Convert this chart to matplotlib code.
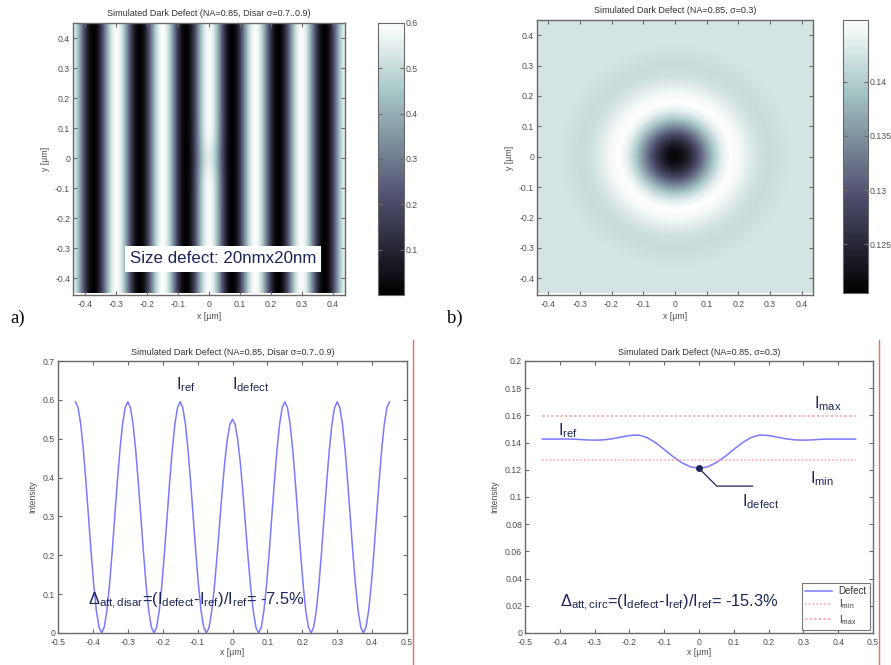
import numpy as np
import matplotlib
matplotlib.use("Agg")
import matplotlib.pyplot as plt
from matplotlib.lines import Line2D

plt.rcParams['font.family'] = ['Liberation Sans', 'DejaVu Sans']
plt.rcParams['mathtext.fontset'] = 'custom'
plt.rcParams['mathtext.rm'] = 'Liberation Sans'
plt.rcParams['mathtext.it'] = 'Liberation Sans'
plt.rcParams['mathtext.default'] = 'regular'

# ---------------- data ----------------
# dipole (Disar) line profile through the defect, x from -0.45 to 0.45 step 0.0075
disar_x = np.linspace(-0.45, 0.45, 121)
disar_defect = [
    0.595, 0.580, 0.538, 0.472, 0.389, 0.298, 0.206, 0.123, 0.057, 0.015,
    0.000, 0.015, 0.057, 0.123, 0.206, 0.298, 0.389, 0.472, 0.538, 0.580,
    0.595, 0.580, 0.538, 0.472, 0.389, 0.298, 0.206, 0.123, 0.057, 0.015,
    0.000, 0.015, 0.057, 0.123, 0.206, 0.298, 0.389, 0.472, 0.538, 0.580,
    0.595, 0.580, 0.538, 0.472, 0.389, 0.298, 0.206, 0.123, 0.057, 0.015,
    0.000, 0.013, 0.053, 0.113, 0.190, 0.275, 0.360, 0.437, 0.497, 0.537,
    0.550, 0.537, 0.497, 0.437, 0.360, 0.275, 0.190, 0.113, 0.053, 0.013,
    0.000, 0.015, 0.057, 0.123, 0.206, 0.298, 0.389, 0.472, 0.538, 0.580,
    0.595, 0.580, 0.538, 0.472, 0.389, 0.298, 0.206, 0.123, 0.057, 0.015,
    0.000, 0.015, 0.057, 0.123, 0.206, 0.298, 0.389, 0.472, 0.538, 0.580,
    0.595, 0.580, 0.538, 0.472, 0.389, 0.298, 0.206, 0.123, 0.057, 0.015,
    0.000, 0.015, 0.057, 0.123, 0.206, 0.298, 0.389, 0.472, 0.538, 0.580,
    0.595]
# reference (no defect) profile: undisturbed centre stripe
disar_ref = [
    0.595, 0.580, 0.538, 0.472, 0.389, 0.298, 0.206, 0.123, 0.057, 0.015,
    0.000, 0.015, 0.057, 0.123, 0.206, 0.298, 0.389, 0.472, 0.538, 0.580,
    0.595, 0.580, 0.538, 0.472, 0.389, 0.298, 0.206, 0.123, 0.057, 0.015,
    0.000, 0.015, 0.057, 0.123, 0.206, 0.298, 0.389, 0.472, 0.538, 0.580,
    0.595, 0.580, 0.538, 0.472, 0.389, 0.298, 0.206, 0.123, 0.057, 0.015,
    0.000, 0.015, 0.057, 0.123, 0.206, 0.298, 0.389, 0.472, 0.538, 0.580,
    0.595, 0.580, 0.538, 0.472, 0.389, 0.298, 0.206, 0.123, 0.057, 0.015,
    0.000, 0.015, 0.057, 0.123, 0.206, 0.298, 0.389, 0.472, 0.538, 0.580,
    0.595, 0.580, 0.538, 0.472, 0.389, 0.298, 0.206, 0.123, 0.057, 0.015,
    0.000, 0.015, 0.057, 0.123, 0.206, 0.298, 0.389, 0.472, 0.538, 0.580,
    0.595, 0.580, 0.538, 0.472, 0.389, 0.298, 0.206, 0.123, 0.057, 0.015,
    0.000, 0.015, 0.057, 0.123, 0.206, 0.298, 0.389, 0.472, 0.538, 0.580,
    0.595]

# circular illumination line profile, x from -0.45 to 0.45 step 0.025
circ_x = np.linspace(-0.45, 0.45, 37)
circ_defect = [
    0.1426, 0.1426, 0.1426, 0.1426, 0.1424, 0.1420, 0.1418, 0.1420, 0.1428,
    0.1440, 0.1452, 0.1456, 0.1438, 0.1400, 0.1350, 0.1298, 0.1253, 0.1222,
    0.1211,
    0.1222, 0.1253, 0.1298, 0.1350, 0.1400, 0.1438, 0.1456, 0.1452, 0.1440,
    0.1428, 0.1420, 0.1418, 0.1420, 0.1424, 0.1426, 0.1426, 0.1426, 0.1426]
circ_Imin = 0.1272
circ_Imax = 0.1595

title_disar = "Simulated Dark Defect (NA=0.85, Disar \u03c3=0.7..0.9)"
title_circ = "Simulated Dark Defect (NA=0.85, \u03c3=0.3)"

# ---------------- figure ----------------
W, H = 891, 665
fig = plt.figure(figsize=(W / 100, H / 100), dpi=100)
fig.patch.set_facecolor('white')


def rect(l, t, r, b):
    return [l / W, 1 - b / H, (r - l) / W, (b - t) / H]


GRAY = '#505050'
NAVY = '#1c2657'
TICK_FS = 6.3


def style(ax):
    for s in ax.spines.values():
        s.set_color('#6a6a6a')
        s.set_linewidth(1.0)
    ax.tick_params(direction='in', length=3, width=0.8, colors='#6a6a6a',
                   labelcolor=GRAY, labelsize=TICK_FS, top=True, right=True, pad=2)
    ax.tick_params(axis='x', pad=3.5)


cmap = plt.get_cmap('bone')

# ----- a) top-left image -----
ax1 = fig.add_axes(rect(73, 23, 345, 295))
xs = np.linspace(-0.45, 0.45, 361)
ys = np.linspace(-0.45, 0.45, 181)
ref_row = np.interp(xs, disar_x, disar_ref)
def_row = np.interp(xs, disar_x, disar_defect)
w = np.exp(-(ys / 0.06) ** 2)[:, None]
img1 = ref_row[None, :] * (1 - w) + def_row[None, :] * w
im1 = ax1.imshow(img1, extent=[-0.45, 0.45, -0.45, 0.45], origin='lower',
                 cmap=cmap, vmin=0, vmax=0.6, aspect='auto', interpolation='bilinear')
ax1.set_xlim(-0.44, 0.44)
ax1.set_ylim(-0.455, 0.45)
ticks9 = np.round(np.arange(-0.4, 0.41, 0.1), 1)
lab9 = ['-0.4', '-0.3', '-0.2', '-0.1', '0', '0.1', '0.2', '0.3', '0.4']
ax1.set_xticks(ticks9)
ax1.set_yticks(ticks9)
ax1.set_xticklabels(lab9)
ax1.set_yticklabels(lab9)
style(ax1)
ax1.set_title(title_disar, fontsize=6.5, color='#333333', pad=5)
ax1.set_xlabel('x [\u00b5m]', fontsize=6.3, color=GRAY, labelpad=2)
ax1.set_ylabel('y [\u00b5m]', fontsize=6.3, color=GRAY, labelpad=4)
ax1.text(-0.256, -0.335, 'Size defect: 20nmx20nm', fontsize=12.2, color=NAVY,
         ha='left', va='center',
         bbox=dict(boxstyle='square,pad=0.3', facecolor='white', edgecolor='none'))

cax1 = fig.add_axes(rect(378, 23, 404, 295))
cb1 = fig.colorbar(im1, cax=cax1)
cb1.set_ticks([0.1, 0.2, 0.3, 0.4, 0.5, 0.6])
cb1.set_ticklabels(['0.1', '0.2', '0.3', '0.4', '0.5', '0.6'])
cb1.outline.set_edgecolor('#6a6a6a')
cax1.tick_params(direction='in', length=3, width=0.8, colors='#6a6a6a',
                 labelcolor=GRAY, labelsize=TICK_FS, left=True, right=True, pad=1)

# ----- b) top-right image -----
ax2 = fig.add_axes(rect(537, 20, 813, 295))
xx = np.linspace(-0.45, 0.45, 301)
X, Y = np.meshgrid(xx, xx)
R = np.sqrt(X ** 2 + Y ** 2)
half_r = circ_x[18:]
half_v = np.array(circ_defect[18:])
img2 = np.interp(R, half_r, half_v)
im2 = ax2.imshow(img2, extent=[-0.45, 0.45, -0.45, 0.45], origin='lower',
                 cmap=cmap, vmin=0.1205, vmax=0.1457, aspect='auto', interpolation='bilinear')
ax2.set_xlim(-0.435, 0.435)
ax2.set_ylim(-0.455, 0.45)
ax2.set_xticks(ticks9)
ax2.set_yticks(ticks9)
ax2.set_xticklabels(lab9)
ax2.set_yticklabels(lab9)
style(ax2)
ax2.set_title(title_circ, fontsize=6.5, color='#333333', pad=5)
ax2.set_xlabel('x [\u00b5m]', fontsize=6.3, color=GRAY, labelpad=2)
ax2.set_ylabel('y [\u00b5m]', fontsize=6.3, color=GRAY, labelpad=4)

cax2 = fig.add_axes(rect(843, 20, 868, 293))
cb2 = fig.colorbar(im2, cax=cax2)
cb2.set_ticks([0.125, 0.13, 0.135, 0.14])
cb2.set_ticklabels(['0.125', '0.13', '0.135', '0.14'])
cb2.outline.set_edgecolor('#6a6a6a')
cax2.tick_params(direction='in', length=3, width=0.8, colors='#6a6a6a',
                 labelcolor=GRAY, labelsize=TICK_FS, left=True, right=True, pad=1)

fig.text(10 / W, 1 - 318 / H, 'a)', fontsize=13.5, family='Liberation Serif', va='center')
fig.text(447 / W, 1 - 318 / H, 'b)', fontsize=13.5, family='Liberation Serif', va='center')

ticks11 = np.round(np.arange(-0.5, 0.51, 0.1), 1)
lab11 = ['-0.5', '-0.4', '-0.3', '-0.2', '-0.1', '0', '0.1', '0.2', '0.3', '0.4', '0.5']

# ----- bottom-left line plot -----
ax3 = fig.add_axes(rect(58, 361, 407, 633))
ax3.plot(disar_x, disar_defect, color='#7a7aff', lw=1.1)
ax3.set_xlim(-0.5, 0.5)
ax3.set_ylim(0, 0.7)
ax3.set_xticks(ticks11)
ax3.set_xticklabels(lab11)
ax3.set_yticks(np.round(np.arange(0, 0.71, 0.1), 1))
ax3.set_yticklabels(['0', '0.1', '0.2', '0.3', '0.4', '0.5', '0.6', '0.7'])
style(ax3)
ax3.set_title(title_disar, fontsize=6.5, color='#333333', pad=4)
ax3.set_xlabel('x [\u00b5m]', fontsize=6.3, color=GRAY, labelpad=1)
ax3.set_ylabel('Intensity', fontsize=6.3, color=GRAY, labelpad=4)
ax3.text(-0.133, 0.64, r'$I_{ref}$', fontsize=11.5, color=NAVY, ha='center', va='center')
ax3.text(-0.002, 0.64, r'$I_{defect}$', fontsize=11.5, color=NAVY, ha='left', va='center')
ax3.text(-0.414, 0.083, r'$\Delta_{att,disar}$=($I_{defect}$-$I_{ref}$)/$I_{ref}$= -7.5%',
         fontsize=11.8, color=NAVY, ha='left', va='center')

# ----- bottom-right line plot -----
ax4 = fig.add_axes(rect(525, 361, 873, 633))
ax4.plot(circ_x, circ_defect, color='#7a7aff', lw=1.1, label='Defect')
ax4.plot([circ_x[0], circ_x[-1]], [circ_Imin, circ_Imin], color='#ff9a9a', lw=1.1,
         ls=(0, (1, 1.5)), label=r'$I_{min}$')
ax4.plot([circ_x[0], circ_x[-1]], [circ_Imax, circ_Imax], color='#ff9a9a', lw=1.1,
         ls=(0, (1.5, 1.5)), label=r'$I_{max}$')
ax4.plot([0.0], [circ_defect[18]], 'o', color=NAVY, ms=4)
ax4.plot([0.0, 0.051, 0.154], [circ_defect[18], 0.108, 0.108], color=NAVY, lw=0.9)
ax4.set_xlim(-0.5, 0.5)
ax4.set_ylim(0, 0.2)
ax4.set_xticks(ticks11)
ax4.set_xticklabels(lab11)
ax4.set_yticks(np.round(np.arange(0, 0.201, 0.02), 2))
ax4.set_yticklabels(['0', '0.02', '0.04', '0.06', '0.08', '0.1', '0.12', '0.14', '0.16', '0.18', '0.2'])
style(ax4)
ax4.set_title(title_circ, fontsize=6.5, color='#333333', pad=4)
ax4.set_xlabel('x [\u00b5m]', fontsize=6.3, color=GRAY, labelpad=1)
ax4.set_ylabel('Intensity', fontsize=6.3, color=GRAY, labelpad=4)
ax4.text(-0.376, 0.1485, r'$I_{ref}$', fontsize=11.5, color=NAVY, ha='center', va='center')
ax4.text(0.33, 0.1685, r'$I_{max}$', fontsize=11.5, color=NAVY, ha='left', va='center')
ax4.text(0.32, 0.1135, r'$I_{min}$', fontsize=11.5, color=NAVY, ha='left', va='center')
ax4.text(0.125, 0.0965, r'$I_{defect}$', fontsize=11.5, color=NAVY, ha='left', va='center')
ax4.text(-0.40, 0.0225, r'$\Delta_{att,circ}$=($I_{defect}$-$I_{ref}$)/$I_{ref}$= -15.3%',
         fontsize=11.8, color=NAVY, ha='left', va='center')
leg = ax4.legend(loc='lower right', fontsize=7, frameon=True, fancybox=False,
                 borderpad=0.3, labelspacing=0.15, handlelength=2.8, handletextpad=0.7,
                 borderaxespad=0.35)
leg.get_frame().set_edgecolor('#555555')
leg.get_frame().set_linewidth(0.8)
for t in leg.get_texts():
    t.set_color('#333333')

# red separator lines
fig.add_artist(Line2D([413 / W, 413 / W], [0, 1 - 340 / H], color='#ff6060', lw=1.0))
fig.add_artist(Line2D([879 / W, 879 / W], [0, 1 - 340 / H], color='#ff6060', lw=1.0))

fig.savefig('out.png', dpi=100, facecolor='white')
